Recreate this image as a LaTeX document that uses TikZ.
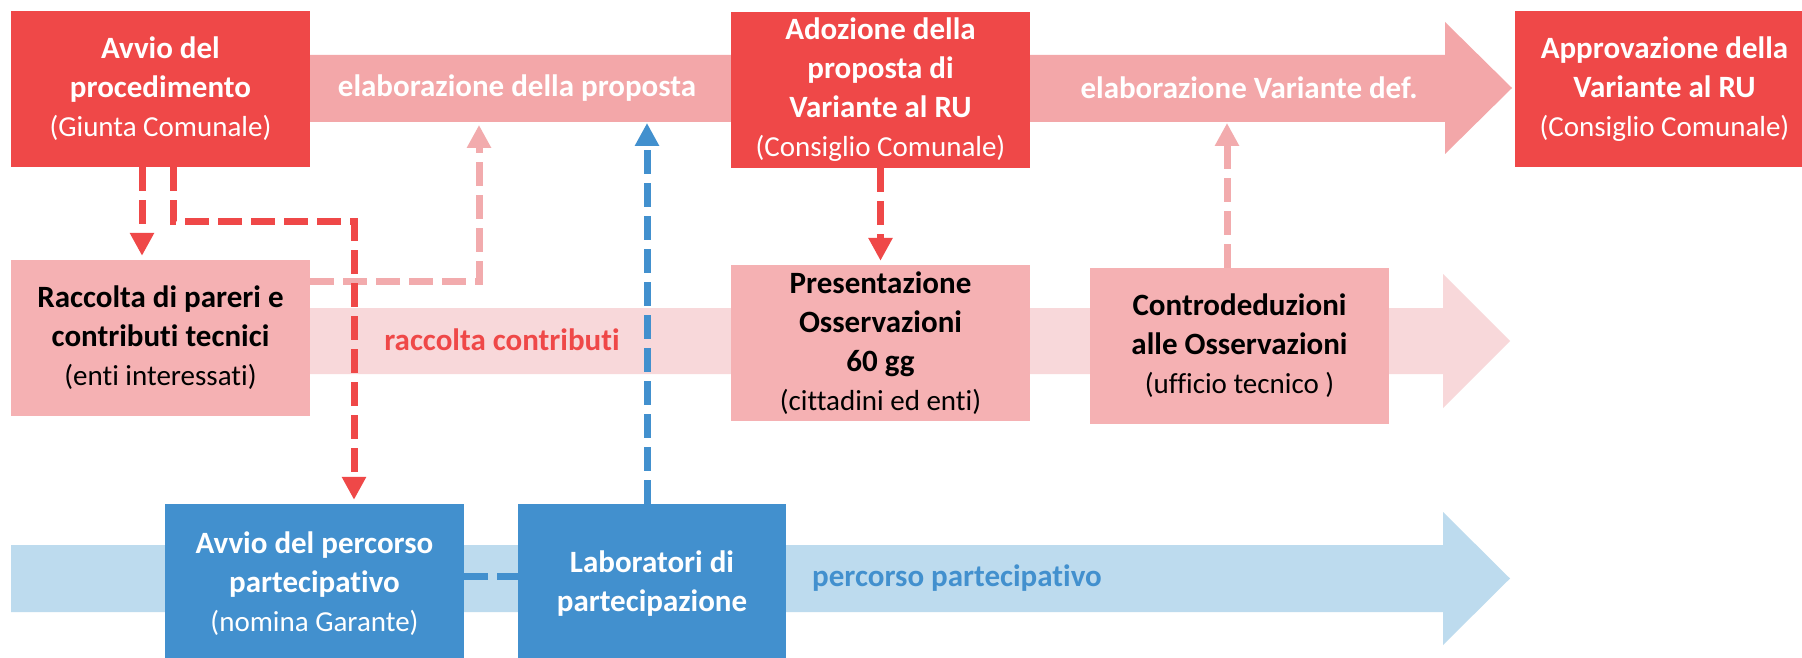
\documentclass[tikz,border=0pt]{standalone}
\usepackage{fontspec}
\setmainfont{Carlito}[Ligatures=NoCommon]
\usetikzlibrary{arrows.meta}

\definecolor{boxred}{HTML}{EF4848}
\definecolor{bandred}{HTML}{F3A7A9}
\definecolor{boxpink}{HTML}{F5B1B3}
\definecolor{bandpink}{HTML}{F8D8DA}
\definecolor{linkpink}{HTML}{F2ABAD}
\definecolor{boxblue}{HTML}{4290CE}
\definecolor{bandblue}{HTML}{BDDBEE}
\newcommand{\subtxt}{\fontsize{29}{39}\selectfont\mdseries}

\begin{document}
\begin{tikzpicture}[x=1pt, y=-1pt,
  phasebox/.style={fill=#1, minimum width=299pt, minimum height=156pt, inner sep=0pt, align=center, font=\fontsize{31}{39}\selectfont\bfseries},
  redphase/.style={phasebox=boxred, text=white},
  pinkphase/.style={phasebox=boxpink, text=black},
  bluephase/.style={phasebox=boxblue, text=white, minimum height=160pt},
  bandtext/.style={font=\fontsize{31}{39}\selectfont\bfseries},
  link/.style={draw=#1, line width=7pt, dash pattern=on 24pt off 9pt},
  linktip/.style={-{Triangle[length=23pt,width=23pt]}, shorten >=4pt}]
\useasboundingbox (0,0) rectangle (1802,658);
\clip (0,0) rectangle (1802,658);
\fill[white] (0,0) rectangle (1802,658);

% Draw the three band arrows
\fill[bandred] (213,55) -- (1445,55) -- (1445,22) -- (1512,88) -- (1445,154) -- (1445,122) -- (213,122) -- cycle;
\fill[bandpink] (300,308) -- (1443,308) -- (1443,274) -- (1510,341) -- (1443,408) -- (1443,374) -- (300,374) -- cycle;
\fill[bandblue] (11,545) -- (1443,545) -- (1443,512) -- (1510,578.5) -- (1443,645) -- (1443,612) -- (11,612) -- cycle;

% Band labels
\node[bandtext, text=white] (elabprop) at (517,88) {elaborazione della proposta};
\node[bandtext, text=white] (elabvar) at (1249,88) {elaborazione Variante def.};
\node[bandtext, text=boxred] (raccbar) at (502,340) {raccolta contributi};
\node[bandtext, text=boxblue] (percbar) at (957,578) {percorso partecipativo};

% Phase boxes
\node[redphase] (avvio) at (160.5,89) {Avvio del\\procedimento\\{\subtxt (Giunta Comunale)}};
\node[redphase] (adozione) at (880.5,90) {Adozione della\\proposta di\\Variante al RU\\{\subtxt (Consiglio Comunale)}};
\node[redphase] (approvazione) at (1664.5,89) {Approvazione della\\Variante al RU\\{\subtxt (Consiglio Comunale)}};
\node[pinkphase] (raccolta) at (160.5,338) {Raccolta di pareri e\\contributi tecnici\\{\subtxt (enti interessati)}};
\node[pinkphase] (presentazione) at (880.5,343) {Presentazione\\Osservazioni\\60 gg\\{\subtxt (cittadini ed enti)}};
\node[pinkphase] (controded) at (1239.5,346) {Controdeduzioni\\alle Osservazioni\\{\subtxt (ufficio tecnico )}};
\node[bluephase] (avvioperc) at (314.5,584) {Avvio del percorso\\partecipativo\\{\subtxt (nomina Garante)}};
\node[bluephase, minimum width=268pt] (laboratori) at (652,584) {Laboratori di\\partecipazione};

% Bends and ends on the top band
\coordinate (bendA) at (354,221);
\coordinate (bendR) at (479,281);
\coordinate (endR) at (479,121);
\coordinate (endB) at (647,119);
\coordinate (endC) at (1227,119);

% Dashed links
\draw[link=linkpink, linktip] (raccolta.east |- bendR) -- (bendR) -- (endR);
\draw[link=linkpink, linktip] (controded.north -| endC) -- (endC);
\draw[link=boxred, linktip] ([xshift=-18.5pt]avvio.south) -- ([xshift=-18.5pt]raccolta.north);
\draw[link=boxred, linktip] ([xshift=12.5pt]avvio.south) |- (bendA) -- (avvioperc.north -| bendA);
\draw[link=boxred, linktip] (adozione.south) -- (presentazione.north);
\draw[link=boxblue, linktip] (laboratori.north -| endB) -- (endB);
\draw[link=boxblue] ([yshift=8pt]avvioperc.east) -- ([yshift=8pt]laboratori.west);
\end{tikzpicture}
\end{document}
